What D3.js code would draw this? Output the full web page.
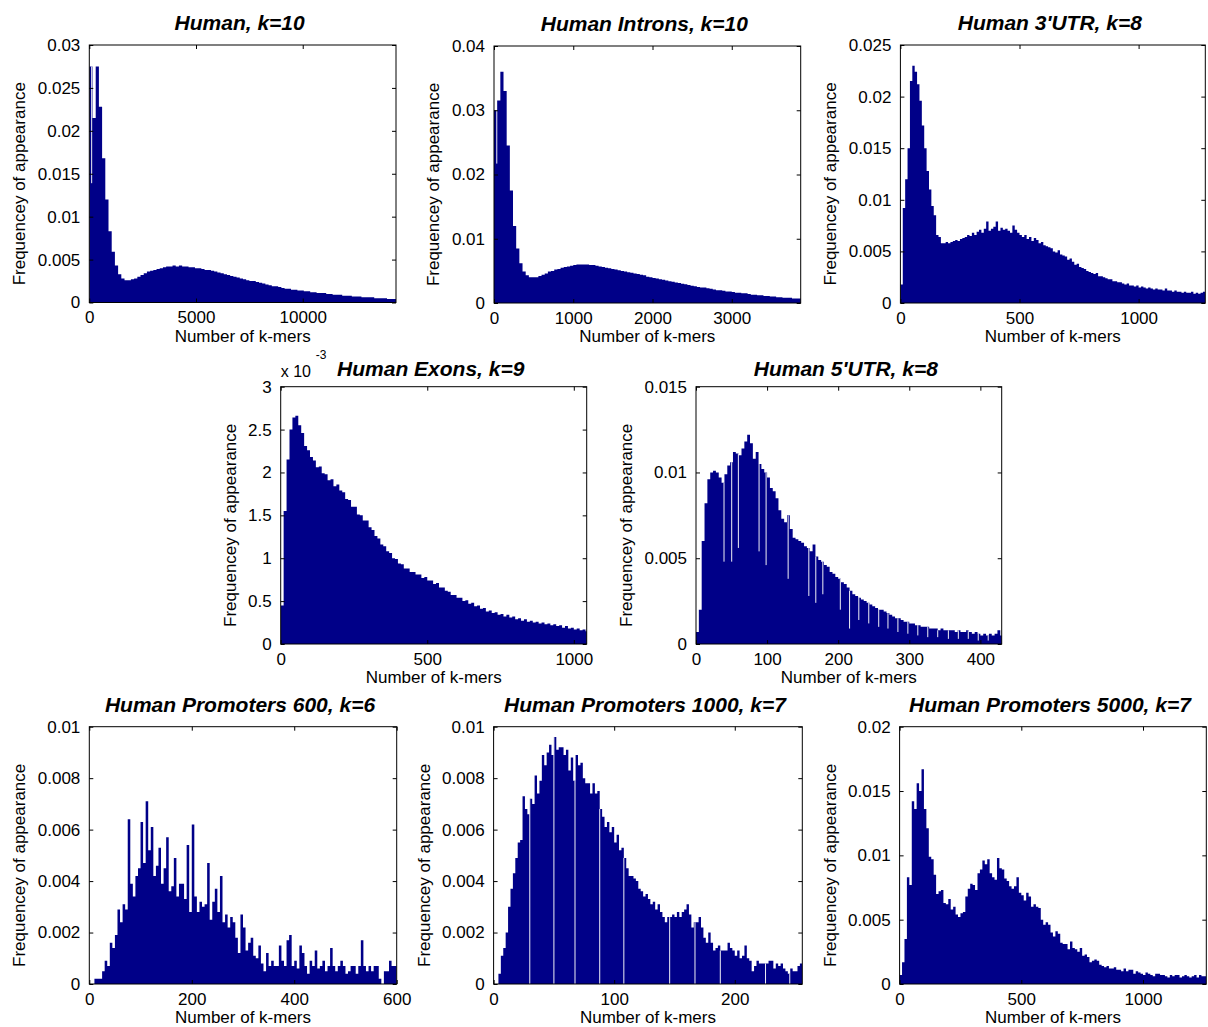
<!DOCTYPE html>
<html><head><meta charset="utf-8">
<script src="https://cdn.jsdelivr.net/npm/d3@7"></script>
<style>
body{margin:0;background:#fff;}
svg{display:block;font-family:"Liberation Sans",Arial,Helvetica,sans-serif;}
</style></head><body>
<svg id="chart" width="1208" height="1027"></svg>
<script>
// ---------------- DATA ----------------
const titles = ["Human, k=10","Human Introns, k=10","Human 3'UTR, k=8","Human Exons, k=9","Human 5'UTR, k=8","Human Promoters 600, k=6","Human Promoters 1000, k=7","Human Promoters 5000, k=7"];
const xLabel = "Number of k-mers";
const yLabel = "Frequencey of appearance";

// bin widths (in k-mers) and axis maxima
const binWidths = [150, 40, 10, 10, 4, 5, 2, 10];
const xMaxima = [14370, 3870, 1280, 1044, 430, 600, 256, 1260];
const yMaxima = [0.03, 0.04, 0.025, 0.003, 0.015, 0.01, 0.01, 0.02];

const humanXTicks = [0, 5000, 10000];
const humanYTicks = [0, 0.005, 0.01, 0.015, 0.02, 0.025, 0.03];
const intronXTicks = [0, 1000, 2000, 3000];
const intronYTicks = [0, 0.01, 0.02, 0.03, 0.04];
const utr3XTicks = [0, 500, 1000];
const utr3YTicks = [0, 0.005, 0.01, 0.015, 0.02, 0.025];
const exonXTicks = [0, 500, 1000];
const exonYTicks = [0, 0.0005, 0.001, 0.0015, 0.002, 0.0025, 0.003];
const exonYTickLabels = ["0", "0.5", "1", "1.5", "2", "2.5", "3"];
const utr5XTicks = [0, 100, 200, 300, 400];
const utr5YTicks = [0, 0.005, 0.01, 0.015];
const prom600XTicks = [0, 200, 400, 600];
const prom600YTicks = [0, 0.002, 0.004, 0.006, 0.008, 0.01];
const prom1000XTicks = [0, 100, 200];
const prom1000YTicks = [0, 0.002, 0.004, 0.006, 0.008, 0.01];
const prom5000XTicks = [0, 500, 1000];
const prom5000YTicks = [0, 0.005, 0.01, 0.015, 0.02];

const humanValues = [0.0275,0.0215,0.0275,0.0228,0.0168,0.0120,0.0083,0.0059,0.0043,0.0033,
0.0028,0.0026,0.0026,0.0027,0.0028,0.0030,0.0032,0.0034,0.0036,0.0037,
0.0038,0.0039,0.0040,0.0041,0.0042,0.0042,0.0043,0.0042,0.0043,0.0042,
0.0042,0.0041,0.0041,0.0040,0.0040,0.0039,0.0038,0.0038,0.0037,0.0036,
0.0035,0.0034,0.0033,0.0032,0.0031,0.0030,0.0029,0.0028,0.0027,0.0026,
0.0025,0.0025,0.0024,0.0023,0.0022,0.0021,0.0020,0.0019,0.0019,0.0018,
0.0017,0.0016,0.0016,0.0015,0.0015,0.0014,0.0014,0.0013,0.0013,0.0012,
0.0012,0.0011,0.0011,0.0011,0.0010,0.0010,0.0009,0.0009,0.0009,0.0008,
0.0008,0.0008,0.0007,0.0007,0.0007,0.0006,0.0006,0.0006,0.0006,0.0005,
0.0005,0.0005,0.0005,0.0004,0.0004,0.0004];

const intronValues = [0.0300,0.0315,0.0360,0.0330,0.0245,0.0175,0.0120,0.0085,0.0062,0.0049,
0.0043,0.0040,0.0040,0.0040,0.0042,0.0044,0.0046,0.0049,0.0050,0.0052,
0.0053,0.0055,0.0056,0.0057,0.0058,0.0059,0.0060,0.0060,0.0060,0.0060,
0.0059,0.0059,0.0058,0.0057,0.0056,0.0055,0.0054,0.0053,0.0052,0.0051,
0.0050,0.0049,0.0048,0.0047,0.0046,0.0045,0.0044,0.0043,0.0041,0.0040,
0.0039,0.0038,0.0037,0.0036,0.0035,0.0034,0.0033,0.0032,0.0031,0.0030,
0.0029,0.0028,0.0027,0.0026,0.0025,0.0024,0.0024,0.0023,0.0022,0.0021,
0.0020,0.0020,0.0019,0.0018,0.0018,0.0017,0.0016,0.0016,0.0015,0.0015,
0.0014,0.0013,0.0013,0.0012,0.0012,0.0011,0.0011,0.0010,0.0010,0.0009,
0.0009,0.0008,0.0008,0.0008,0.0007,0.0007,0.0007];

const utr3Values = [0.0018,0.0092,0.0120,0.0150,0.0215,0.0230,0.0224,0.0212,0.0196,0.0172,
0.0150,0.0128,0.0110,0.0094,0.0085,0.0066,0.0064,0.0058,0.0058,0.0059,
0.0058,0.0059,0.0060,0.0061,0.0060,0.0062,0.0063,0.0064,0.0066,0.0065,
0.0068,0.0066,0.0069,0.0071,0.0068,0.0072,0.0079,0.0070,0.0072,0.0074,
0.0079,0.0070,0.0073,0.0071,0.0072,0.0070,0.0068,0.0075,0.0071,0.0068,
0.0066,0.0064,0.0066,0.0062,0.0064,0.0060,0.0063,0.0061,0.0058,0.0059,
0.0056,0.0055,0.0054,0.0053,0.0050,0.0049,0.0051,0.0047,0.0046,0.0045,
0.0042,0.0043,0.0040,0.0037,0.0038,0.0035,0.0034,0.0033,0.0031,0.0030,
0.0029,0.0028,0.0029,0.0026,0.0026,0.0025,0.0024,0.0023,0.0023,0.0021,
0.0021,0.0020,0.0020,0.0019,0.0018,0.0019,0.0017,0.0017,0.0016,0.0017,
0.0015,0.0016,0.0015,0.0014,0.0015,0.0014,0.0013,0.0014,0.0013,0.0013,
0.0012,0.0014,0.0012,0.0012,0.0011,0.0012,0.0011,0.0011,0.0010,0.0011,
0.0010,0.0010,0.0011,0.0009,0.0010,0.0009,0.0010,0.0011];

const exonValues = [0.00045,0.00155,0.00215,0.00250,0.00264,0.00266,0.00255,0.00246,0.00231,0.00226,
0.00218,0.00214,0.00206,0.00207,0.00199,0.00198,0.00191,0.00192,0.00184,0.00186,
0.00179,0.00177,0.00169,0.00168,0.00160,0.00160,0.00151,0.00150,0.00144,0.00144,
0.00136,0.00133,0.00126,0.00123,0.00116,0.00114,0.00108,0.00106,0.00100,0.00099,
0.00094,0.00093,0.00088,0.00088,0.00084,0.00084,0.00081,0.00081,0.00077,0.00078,
0.00074,0.00074,0.00070,0.00071,0.00066,0.00066,0.00062,0.00061,0.00057,0.00057,
0.00054,0.00054,0.00050,0.00051,0.00047,0.00048,0.00044,0.00045,0.00041,0.00042,
0.00038,0.00039,0.00036,0.00037,0.00034,0.00035,0.00032,0.00034,0.00031,0.00032,
0.00029,0.00030,0.00027,0.00029,0.00026,0.00027,0.00025,0.00026,0.00024,0.00025,
0.00023,0.00024,0.00022,0.00023,0.00021,0.00022,0.00019,0.00021,0.00018,0.00019,
0.00017,0.00018,0.00016,0.00017,0.00015];

const utr5Values = [0.0007,0.0020,0.0060,0.0082,0.0096,0.0100,0.0101,0.0100,0.0097,0.0094,
0.0099,0.0104,0.0106,0.0112,0.0111,0.0110,0.0114,0.0118,0.0122,0.0117,
0.0108,0.0112,0.0105,0.0102,0.0100,0.0097,0.0091,0.0089,0.0085,0.0078,
0.0073,0.0071,0.0075,0.0067,0.0062,0.0061,0.0060,0.0059,0.0057,0.0056,
0.0054,0.0058,0.0051,0.0049,0.0048,0.0046,0.0045,0.0042,0.0041,0.0039,
0.0038,0.0036,0.0035,0.0033,0.0031,0.0029,0.0028,0.0027,0.0026,0.0025,
0.0024,0.0023,0.0022,0.0021,0.0020,0.0020,0.0019,0.0018,0.0017,0.0016,
0.0015,0.0015,0.0014,0.0013,0.0013,0.0012,0.0012,0.0011,0.0011,0.0010,
0.0010,0.0010,0.0009,0.0009,0.0009,0.0008,0.0009,0.0008,0.0008,0.0008,
0.0008,0.0007,0.0008,0.0007,0.0007,0.0008,0.0007,0.0006,0.0007,0.0006,
0.0005,0.0006,0.0005,0.0006,0.0005,0.0006,0.0008,0.0005];

const prom600Values = [0,0,0.0002,0.0002,0.0002,0.0005,0.0009,0.0007,0.0016,0.0014,
0.0019,0.0029,0.0024,0.0031,0.0029,0.0064,0.0039,0.0034,0.0042,0.0045,
0.0063,0.0047,0.0071,0.0052,0.0061,0.0042,0.0046,0.0053,0.0039,0.0045,
0.0057,0.0036,0.0038,0.0049,0.0034,0.0039,0.0039,0.0033,0.0054,0.0028,
0.0062,0.0034,0.0028,0.0032,0.0030,0.0031,0.0047,0.0025,0.0032,0.0037,
0.0028,0.0042,0.0024,0.0027,0.0022,0.0026,0.0024,0.0018,0.0012,0.0027,
0.0022,0.0013,0.0016,0.0018,0.0011,0.0010,0.0015,0.0008,0.0005,0.0012,
0.0007,0.0009,0.0007,0.0007,0.0015,0.0009,0.0007,0.0017,0.0019,0.0007,
0.0009,0.0006,0.0015,0.0012,0.0007,0.0004,0.0009,0.0007,0.0013,0.0006,
0.0007,0.0009,0.0005,0.0007,0.0014,0.0007,0.0005,0.0007,0.0009,0.0007,
0.0004,0.0005,0.0007,0.0007,0.0004,0.0007,0.0017,0.0007,0.0005,0.0007,
0.0005,0.0007,0.0007,0.0002,0,0.0005,0.0005,0.0009,0.0007,0.0007];

const prom1000Values = [0,0,0.0004,0.0011,0.0014,0.0020,0.0030,0.0037,0.0043,0.0049,
0.0055,0.0056,0.0073,0.0068,0.0066,0.0072,0.0070,0.0081,0.0074,0.0079,
0.0089,0.0085,0.0090,0.0093,0.0089,0.0096,0.0091,0.0092,0.0092,0.0089,
0.0091,0.0083,0.0088,0.0079,0.0089,0.0085,0.0086,0.0080,0.0078,0.0078,
0.0074,0.0078,0.0074,0.0075,0.0068,0.0065,0.0061,0.0063,0.0059,0.0061,
0.0055,0.0058,0.0052,0.0053,0.0049,0.0045,0.0042,0.0042,0.0041,0.0040,
0.0037,0.0036,0.0034,0.0035,0.0033,0.0031,0.0032,0.0029,0.0031,0.0028,
0.0026,0.0024,0.0026,0.0026,0.0027,0.0026,0.0028,0.0026,0.0028,0.0029,
0.0031,0.0027,0.0022,0.0024,0.0024,0.0026,0.0022,0.0018,0.0016,0.0020,
0.0016,0.0013,0.0014,0.0015,0.0013,0.0013,0.0013,0.0016,0.0014,0.0013,
0.0011,0.0013,0.0010,0.0011,0.0015,0.0010,0.0009,0.0005,0.0007,0.0009,
0.0008,0.0008,0.0008,0.0008,0.0009,0.0009,0.0006,0.0008,0.0007,0.0008,
0.0006,0.0005,0.0004,0.0006,0.0005,0.0005,0.0007,0.0008];

const prom5000Values = [0.0007,0.0017,0.0035,0.0083,0.0077,0.0142,0.0136,0.0156,0.0150,0.0167,
0.0136,0.0121,0.0099,0.0097,0.0085,0.0070,0.0072,0.0073,0.0063,0.0062,
0.0066,0.0058,0.0060,0.0054,0.0052,0.0055,0.0056,0.0068,0.0074,0.0078,
0.0077,0.0073,0.0086,0.0089,0.0096,0.0093,0.0097,0.0086,0.0083,0.0081,
0.0098,0.0090,0.0089,0.0082,0.0080,0.0076,0.0074,0.0076,0.0083,0.0071,
0.0069,0.0065,0.0071,0.0068,0.0060,0.0062,0.0060,0.0059,0.0050,0.0046,
0.0048,0.0046,0.0040,0.0037,0.0041,0.0039,0.0032,0.0031,0.0031,0.0027,
0.0033,0.0028,0.0027,0.0025,0.0028,0.0022,0.0023,0.0021,0.0017,0.0018,
0.0019,0.0018,0.0015,0.0014,0.0013,0.0014,0.0012,0.0012,0.0013,0.0011,
0.0011,0.0010,0.0012,0.0010,0.0011,0.0011,0.0008,0.0010,0.0009,0.0008,
0.0007,0.0009,0.0008,0.0007,0.0006,0.0008,0.0008,0.0007,0.0007,0.0006,
0.0005,0.0007,0.0006,0.0007,0.0007,0.0005,0.0006,0.0007,0.0006,0.0005,
0.0006,0.0007,0.0005,0.0007,0.0006,0.0006];

// narrow low bins (k-mer count, frequency) seen as thin light lines
const humanDips = [[110, 0.0139]];
const intronDips = [[35, 0.0217]];
const utr5Dips = [[39.4,0.0048],[50.2,0.0048],[59.6,0.0056],[88.7,0.0054],[98.6,0.0046],[129.6,0.0038],[158.7,0.0028],[168.5,0.0024],[178.4,0.0029],[203,0.0020],[216,0.0009],[229,0.0014],[243,0.0012],[257,0.0010],[270,0.0009],[284,0.0007],[298,0.0006],[312,0.0005],[326,0.0004],[340,0.0004],[355,0.0003],[369,0.0003],[383,0.0003],[397,0.0002],[411,0.0002]];
const prom1000Dips = [[30,0],[50,0],[67.5,0],[88,0],[108,0],[146,0],[167,0],[188,0],[225.5,0],[245.6,0]];

// ---------------- LAYOUT ----------------
const layout = [
  {left:89.3, top:45, right:396, bottom:302.5, titleDy:15},
  {left:494, top:46, right:800.7, bottom:303, titleDy:15},
  {left:900.4, top:45, right:1205.3, bottom:303, titleDy:15},
  {left:280.7, top:386.7, right:586.7, bottom:644, titleDy:11},
  {left:696, top:386.7, right:1001.7, bottom:644, titleDy:11},
  {left:89.3, top:726.7, right:396.7, bottom:984, titleDy:15},
  {left:493.6, top:726.7, right:802.3, bottom:984, titleDy:15},
  {left:899.6, top:726.7, right:1206.3, bottom:984, titleDy:15}
];
const barColor = "#000088";
const font = '"Liberation Sans",Arial,Helvetica,sans-serif';

const seriesValues = [humanValues, intronValues, utr3Values, exonValues, utr5Values, prom600Values, prom1000Values, prom5000Values];
const xTickSets = [humanXTicks, intronXTicks, utr3XTicks, exonXTicks, utr5XTicks, prom600XTicks, prom1000XTicks, prom5000XTicks];
const yTickSets = [humanYTicks, intronYTicks, utr3YTicks, exonYTicks, utr5YTicks, prom600YTicks, prom1000YTicks, prom5000YTicks];
const dipSets = [humanDips, intronDips, [], [], utr5Dips, [], prom1000Dips, []];

const svg = d3.select("#chart");
const defs = svg.append("defs");
const fmt = d3.format("~g");

seriesValues.forEach((vals, k) => {
  const L = layout[k];
  const bw = binWidths[k];
  const x = d3.scaleLinear().domain([0, xMaxima[k]]).range([L.left, L.right]);
  const y = d3.scaleLinear().domain([0, yMaxima[k]]).range([L.bottom, L.top]);
  const g = svg.append("g");

  defs.append("clipPath").attr("id", "clip" + k)
    .append("rect").attr("x", L.left).attr("y", L.top - 1)
    .attr("width", L.right - L.left).attr("height", L.bottom - L.top + 1);

  // histogram bars as one stepped outline (no seams between adjacent bars)
  const bins = vals.map((v, i) => ({x0: i * bw, x1: (i + 1) * bw, v}));
  const steps = bins.flatMap(d => [[d.x0, d.v], [d.x1, d.v]]);
  const area = d3.area().x(d => x(d[0])).y0(y(0)).y1(d => y(d[1]));
  const plot = g.append("g").attr("clip-path", `url(#clip${k})`);
  plot.append("path").datum(steps).attr("d", area).attr("fill", barColor);

  // thin low bins
  plot.selectAll("rect.dip").data(dipSets[k]).join("rect").attr("class", "dip")
    .attr("x", d => x(d[0]) - 0.5)
    .attr("width", 1)
    .attr("y", d => y(vals[Math.floor(d[0] / bw)]))
    .attr("height", d => Math.max(0, y(d[1]) - y(vals[Math.floor(d[0] / bw)])))
    .attr("fill", "#eeeef6");

  const tick = 4;
  const isExon = (k === 3);
  // bottom axis
  const ax = g.append("g").attr("transform", `translate(0,${L.bottom})`)
    .call(d3.axisBottom(x).tickValues(xTickSets[k]).tickSize(-tick).tickFormat(fmt));
  ax.select(".domain").remove();
  ax.selectAll("text").attr("y", 20.5).attr("dy", null);
  // top axis
  const axT = g.append("g").attr("transform", `translate(0,${L.top})`)
    .call(d3.axisTop(x).tickValues(xTickSets[k]).tickSize(-tick).tickFormat(""));
  axT.select(".domain").remove();
  // left axis
  const ay = g.append("g").attr("transform", `translate(${L.left},0)`)
    .call(d3.axisLeft(y).tickValues(yTickSets[k]).tickSize(-tick).tickPadding(9)
      .tickFormat((d, i) => isExon ? exonYTickLabels[i] : fmt(d)));
  ay.select(".domain").remove();
  // right axis
  const ayR = g.append("g").attr("transform", `translate(${L.right},0)`)
    .call(d3.axisRight(y).tickValues(yTickSets[k]).tickSize(-tick).tickFormat(""));
  ayR.select(".domain").remove();

  [ax, axT, ay, ayR].forEach(a => {
    a.attr("font-size", 17).attr("font-family", font);
    a.selectAll("line").attr("stroke", "#000");
    a.selectAll("text").attr("fill", "#000");
  });

  // box
  g.append("rect").attr("x", L.left).attr("y", L.top)
    .attr("width", L.right - L.left).attr("height", L.bottom - L.top)
    .attr("fill", "none").attr("stroke", "#000").attr("stroke-width", 1);

  // measure y tick label width
  let maxW = 0;
  ay.selectAll("text").each(function () { maxW = Math.max(maxW, this.getComputedTextLength()); });

  // y label
  const ylx = L.left - 9 - maxW - 12.5;
  const yly = (L.top + L.bottom) / 2 + 10;
  g.append("text").attr("transform", `translate(${ylx},${yly}) rotate(-90)`)
    .attr("text-anchor", "middle").attr("font-size", 17).attr("font-family", font)
    .attr("fill", "#000").text(yLabel);

  // x label
  g.append("text").attr("x", (L.left + L.right) / 2).attr("y", L.bottom + 39.3)
    .attr("text-anchor", "middle").attr("font-size", 17).attr("font-family", font)
    .attr("fill", "#000").text(xLabel);

  // title
  g.append("text").attr("x", (L.left + L.right) / 2 - 3).attr("y", L.top - L.titleDy)
    .attr("text-anchor", "middle").attr("font-size", 21).attr("font-weight", "bold")
    .attr("font-style", "italic").attr("font-family", font).attr("fill", "#000")
    .text(titles[k]);

  if (isExon) {
    g.append("text").attr("x", L.left).attr("y", L.top - 10)
      .attr("font-size", 16).attr("font-family", font).attr("fill", "#000").text("x 10");
    g.append("text").attr("x", L.left + 35).attr("y", L.top - 28)
      .attr("font-size", 12).attr("font-family", font).attr("fill", "#000").text("-3");
  }
});
</script>
</body></html>
